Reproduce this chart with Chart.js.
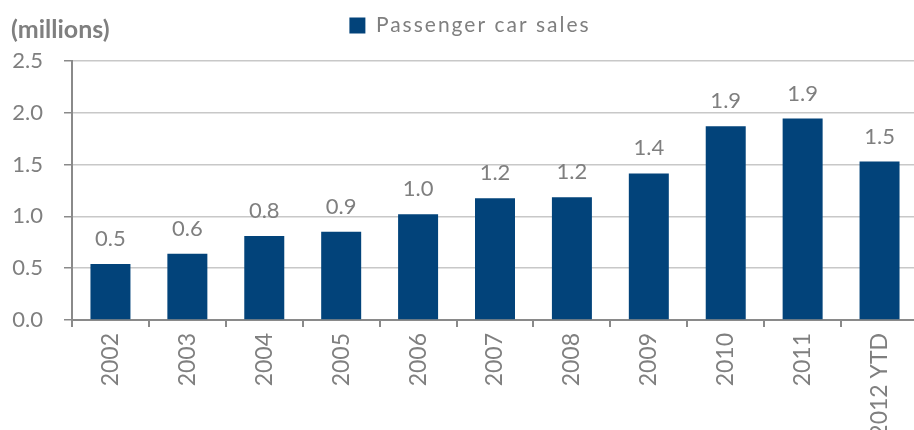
<!DOCTYPE html>
<html><head><meta charset="utf-8">
<script src="https://cdn.jsdelivr.net/npm/chart.js@4/dist/chart.umd.min.js"></script>
<style>
html,body{margin:0;padding:0;background:#fff;overflow:hidden;width:914px;height:430px}
#wrap{position:relative;width:918px;height:430px}
#unit{position:absolute;left:11px;top:13px;font:bold 25px Lato;color:#7f7f7f;line-height:30px}
canvas{display:block}
</style></head><body>
<div id="wrap"><canvas id="c" width="918" height="430"></canvas><div id="unit">(millions)</div></div>
<script>
const categories = ['2002','2003','2004','2005','2006','2007','2008','2009','2010','2011','2012 YTD'];
const salesMillions = [0.54, 0.64, 0.81, 0.853, 1.02, 1.175, 1.185, 1.415, 1.87, 1.945, 1.53];
const seriesName = 'Passenger car sales';
const yMin = 0, yMax = 2.5, yStep = 0.5;

const grey = '#7f7f7f';
const valueLabels = {
  id: 'valueLabels',
  afterDatasetsDraw(chart) {
    const ctx = chart.ctx;
    const meta = chart.getDatasetMeta(0);
    ctx.save();
    ctx.font = '22px Lato';
    ctx.fillStyle = grey;
    ctx.textAlign = 'center';
    ctx.textBaseline = 'middle';
    meta.data.forEach((bar, i) => {
      ctx.fillText(salesMillions[i].toFixed(1), bar.x, bar.y - 25);
    });
    ctx.restore();
  }
};

const chart = new Chart(document.getElementById('c'), {
  type: 'bar',
  data: {
    labels: categories,
    datasets: [{
      label: seriesName,
      data: salesMillions,
      backgroundColor: '#02437a',
      borderWidth: 0,
      barPercentage: 0.52,
      categoryPercentage: 1
    }]
  },
  options: {
    responsive: false,
    animation: false,
    layout: { padding: { left: 0, top: 20, right: 0, bottom: 0 } },
    plugins: {
      legend: {
        display: true,
        position: 'top',
        labels: {
          boxWidth: 16, boxHeight: 16,
          color: grey,
          font: { family: 'Lato', size: 21 },
          padding: 10
        }
      },
      tooltip: { enabled: false }
    },
    scales: {
      x: {
        grid: { display: true, drawOnChartArea: false, drawTicks: true, tickLength: 7, color: '#8a8a8a', tickColor: '#8a8a8a', lineWidth: 2, offset: true },
        border: { display: true, color: '#8a8a8a', width: 2 },
        ticks: { minRotation: 90, maxRotation: 90, autoSkip: false, color: grey, font: { family: 'Lato', size: 23 }, padding: 6 },
        afterFit(s) { s.height = 110; }
      },
      y: {
        min: yMin, max: yMax,
        grid: { color: '#c8c8c8', lineWidth: 1.5, tickLength: 8, tickColor: '#8a8a8a' },
        border: { display: true, color: '#8a8a8a', width: 2 },
        ticks: { stepSize: yStep, color: grey, font: { family: 'Lato', size: 22 }, padding: 21, callback: v => v.toFixed(1) },
        afterFit(s) { s.width = 72; }
      }
    }
  },
  plugins: [valueLabels]
});

// Legend: spaced lettering and offset as in the original
const lg = chart.legend;
const origFit = lg.fit.bind(lg);
const origDraw = lg.draw.bind(lg);
lg.fit = function () {
  const c = this.ctx; const prev = c.letterSpacing;
  c.letterSpacing = '2px'; origFit(); c.letterSpacing = prev;
};
lg.draw = function () {
  const c = this.ctx; const prev = c.letterSpacing;
  c.save(); c.translate(11, -15); c.letterSpacing = '2px';
  origDraw();
  c.restore(); c.letterSpacing = prev;
};
chart.update();
</script>
</body></html>
